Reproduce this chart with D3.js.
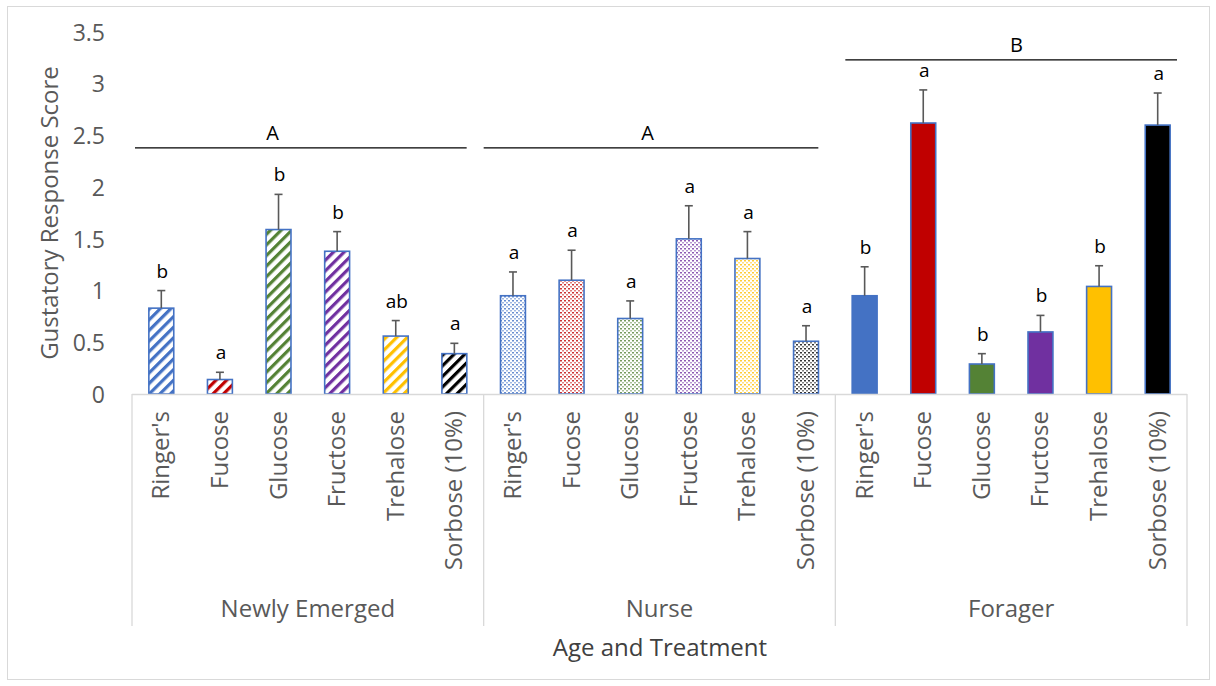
<!DOCTYPE html>
<html><head><meta charset="utf-8">
<script src="https://cdn.jsdelivr.net/npm/d3@7"></script>
<style>
body{margin:0;background:#fff;}
text{font-family:"Open Sans","Noto Sans",sans-serif;}
</style></head>
<body><svg id="c" width="1216" height="686"></svg>
<script>
const groups = ["Newly Emerged","Nurse","Forager"];
const treatments = ["Ringer's","Fucose","Glucose","Fructose","Trehalose","Sorbose (10%)"];
const colors = ["#4472C4","#C00000","#548235","#7030A0","#FFC000","#000000"];
const fills = ["stripe","dot","solid"];
const meanNewly = [0.83,0.14,1.59,1.38,0.56,0.39];
const errNewly  = [0.17,0.07,0.34,0.19,0.15,0.10];
const meanNurse = [0.95,1.10,0.73,1.50,1.31,0.51];
const errNurse  = [0.23,0.29,0.17,0.32,0.26,0.15];
const meanForager = [0.95,2.62,0.29,0.60,1.04,2.60];
const errForager  = [0.28,0.32,0.10,0.16,0.20,0.31];
const lettersNewly = ["b","a","b","b","ab","a"];
const lettersNurse = ["a","a","a","a","a","a"];
const lettersForager = ["b","a","b","b","b","a"];
const groupLetters = ["A","A","B"];
const groupLetterLevel = [2.38,2.38,3.23];
const yTicks = [0,0.5,1,1.5,2,2.5,3,3.5];

// layout (fraction of group width where the group letter sits)
const groupLetterFrac = [0.40,0.466,0.515];

const means=[meanNewly,meanNurse,meanForager], errs=[errNewly,errNurse,errForager],
      lets=[lettersNewly,lettersNurse,lettersForager];
const data=[];
groups.forEach((g,gi)=>treatments.forEach((t,ti)=>data.push({g,gi,t,ti,id:gi*6+ti,v:means[gi][ti],e:errs[gi][ti],l:lets[gi][ti]})));

const svg=d3.select("#c");
const defs=svg.append("defs");
colors.forEach((c,i)=>{
  const p=defs.append("pattern").attr("id","stripe"+i).attr("patternUnits","userSpaceOnUse")
    .attr("width",7.5).attr("height",7.5).attr("patternTransform","rotate(45)");
  p.append("rect").attr("width",7.5).attr("height",7.5).attr("fill","#fff");
  p.append("rect").attr("x",0).attr("width",3.2).attr("height",7.5).attr("fill",c);
  const q=defs.append("pattern").attr("id","dot"+i).attr("patternUnits","userSpaceOnUse")
    .attr("width",4).attr("height",4);
  q.append("rect").attr("width",4).attr("height",4).attr("fill","#fff");
  q.append("rect").attr("x",0).attr("y",0).attr("width",2).attr("height",1.5).attr("fill",c).attr("opacity",0.8);
  q.append("rect").attr("x",2).attr("y",2).attr("width",2).attr("height",1.5).attr("fill",c).attr("opacity",0.5);
});

// outer border
svg.append("rect").attr("x",7.5).attr("y",6.5).attr("width",1202).attr("height",673)
  .attr("fill","none").attr("stroke","#d9d9d9").attr("stroke-width",1);

const left=132,right=1187;
const x=d3.scaleBand().domain(data.map(d=>d.id)).range([left,right]).paddingInner(0.575).paddingOuter(0.2875);
const y=d3.scaleLinear().domain([0,3.5]).range([394,32]);
const gx=d3.scaleBand().domain(groups).range([left,right]);

// y axis labels
const ya=svg.append("g").attr("transform",`translate(105,0)`).call(d3.axisLeft(y).tickValues(yTicks).tickSize(0).tickPadding(0).tickFormat(d3.format("")));
ya.select(".domain").remove();
ya.selectAll("text").attr("fill","#595959").style("font-size","23px").style("font-family","'Open Sans',sans-serif").attr("dy","0.36em");

svg.append("text").attr("transform",`translate(58,213) rotate(-90)`).attr("text-anchor","middle")
  .attr("fill","#595959").style("font-size","24px").text("Gustatory Response Score");

// bars
svg.append("g").selectAll("rect").data(data).join("rect")
  .attr("x",d=>x(d.id)).attr("width",x.bandwidth())
  .attr("y",d=>y(d.v)).attr("height",d=>y(0)-y(d.v))
  .attr("fill",d=>d.gi===2?colors[d.ti]:`url(#${fills[d.gi]}${d.ti})`)
  .attr("stroke","#4472C4").attr("stroke-width",1.6);

// error bars
const eb=svg.append("g").attr("stroke","#595959").attr("stroke-width",1.6);
eb.selectAll("line.v").data(data).join("line").attr("class","v")
  .attr("x1",d=>x(d.id)+x.bandwidth()/2).attr("x2",d=>x(d.id)+x.bandwidth()/2)
  .attr("y1",d=>y(d.v)).attr("y2",d=>y(d.v+d.e));
eb.selectAll("line.c").data(data).join("line").attr("class","c")
  .attr("x1",d=>x(d.id)+x.bandwidth()/2-4).attr("x2",d=>x(d.id)+x.bandwidth()/2+4)
  .attr("y1",d=>y(d.v+d.e)).attr("y2",d=>y(d.v+d.e));

// letters
svg.append("g").selectAll("text").data(data).join("text")
  .attr("x",d=>x(d.id)+x.bandwidth()/2+1).attr("y",d=>y(d.v+d.e)-13)
  .attr("text-anchor","middle").attr("fill","#000").style("font-size","19px").text(d=>d.l);

// x axis
const ax=svg.append("g").attr("stroke","#d9d9d9").attr("stroke-width",1.3);
ax.append("line").attr("x1",left).attr("x2",right).attr("y1",394.5).attr("y2",394.5);
[...groups.map(g=>gx(g)),right].forEach(v=>ax.append("line").attr("x1",v).attr("x2",v).attr("y1",394).attr("y2",626));

// category labels
svg.append("g").selectAll("text").data(data).join("text")
  .attr("transform",d=>`translate(${x(d.id)+x.bandwidth()/2+8},411) rotate(-90)`)
  .attr("text-anchor","end").attr("fill","#595959").style("font-size","24px").text(d=>d.t);

// group labels
svg.append("g").selectAll("text").data(groups).join("text")
  .attr("x",g=>gx(g)+gx.bandwidth()/2).attr("y",617).attr("text-anchor","middle")
  .attr("fill","#595959").style("font-size","24px").text(g=>g);

svg.append("text").attr("x",660).attr("y",656).attr("text-anchor","middle")
  .attr("fill","#404040").style("font-size","24px").text("Age and Treatment");

// group significance brackets
const gb=svg.append("g");
groups.forEach((g,i)=>{
  const x0=gx(g)+ (i===2?10:(i===0?3:0)), x1=gx(g)+gx.bandwidth()-(i===2?10:17);
  gb.append("line").attr("x1",x0).attr("x2",x1).attr("y1",y(groupLetterLevel[i])).attr("y2",y(groupLetterLevel[i]))
    .attr("stroke","#000").attr("stroke-width",1.2);
  gb.append("text").attr("x",gx(g)+gx.bandwidth()*groupLetterFrac[i]).attr("y",y(groupLetterLevel[i])-8)
    .attr("text-anchor","middle").attr("fill","#000").style("font-size","20px").text(groupLetters[i]);
});
</script></body></html>
